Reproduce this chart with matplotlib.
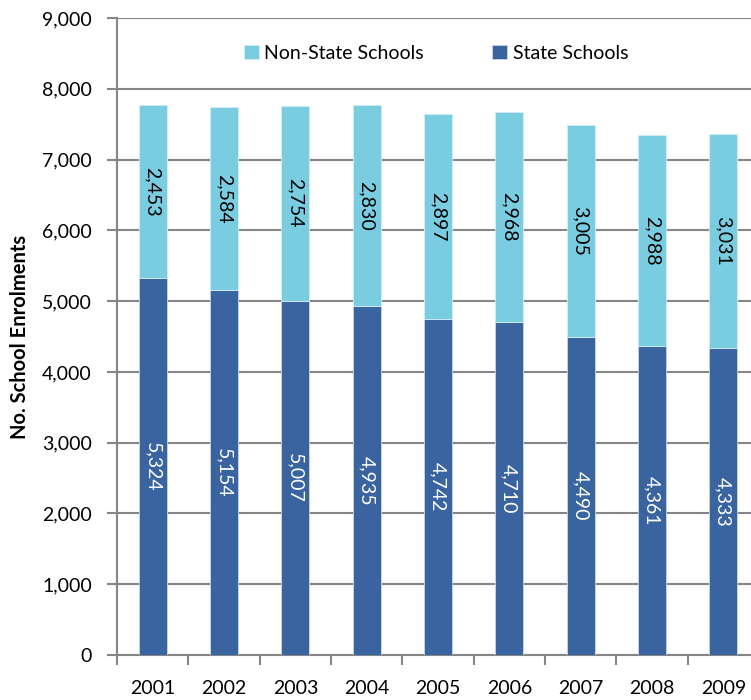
import matplotlib
matplotlib.use("Agg")
import matplotlib.pyplot as plt
from matplotlib.ticker import FuncFormatter, MultipleLocator, FixedLocator
import numpy as np

years = ["2001", "2002", "2003", "2004", "2005", "2006", "2007", "2008", "2009"]
state = [5324, 5154, 5007, 4935, 4742, 4710, 4490, 4361, 4333]
non_state = [2453, 2584, 2754, 2830, 2897, 2968, 3005, 2988, 3031]

plt.rcParams["font.family"] = ["Lato", "DejaVu Sans"]

W, H = 751, 700
fig = plt.figure(figsize=(W / 100, H / 100), dpi=100)
left_px, right_px, top_px, bottom_px = 117, 759, 18, 655
ax = fig.add_axes([left_px / W, (H - bottom_px) / H,
                   (right_px - left_px) / W, (bottom_px - top_px) / H])

dark = "#3A64A0"
light = "#7ACDE0"
grid_c = "#868686"

x = np.arange(len(years))
bw = 0.39
b1 = ax.bar(x, state, bw, color=dark, edgecolor="#C9D6EA", linewidth=0.6,
            label="State Schools", zorder=3)
b2 = ax.bar(x, non_state, bw, bottom=state, color=light, edgecolor="#D2EEF5",
            linewidth=0.6, label="Non-State Schools", zorder=3)

for xi, s, n in zip(x, state, non_state):
    ax.text(xi, s / 2, f"{s:,}", rotation=-90, ha="center", va="center",
            color="white", fontsize=14, zorder=4)
    ax.text(xi, s + n / 2, f"{n:,}", rotation=-90, ha="center", va="center",
            color="black", fontsize=14, zorder=4)

ax.set_xlim(-0.5, len(years) - 0.5)
ax.set_ylim(0, 9000)
ax.yaxis.set_major_locator(MultipleLocator(1000))
ax.yaxis.set_major_formatter(FuncFormatter(lambda v, p: f"{int(v):,}"))
ax.grid(axis="y", color=grid_c, linewidth=1.5, zorder=0)

ax.set_xticks(x)
ax.set_xticklabels(years)
ax.xaxis.set_minor_locator(FixedLocator(np.arange(-0.5, len(years), 1.0)))
ax.tick_params(axis="x", which="major", length=0, pad=18, labelsize=14)
ax.tick_params(axis="x", which="minor", length=7, width=1.5, color=grid_c)
ax.tick_params(axis="y", length=7, width=1.5, color=grid_c, pad=11, labelsize=14)

for side in ("top", "right"):
    ax.spines[side].set_visible(False)
for side in ("left", "bottom"):
    ax.spines[side].set_color(grid_c)
    ax.spines[side].set_linewidth(1.5)

ax.set_ylabel("No. School Enrolments", fontsize=14.5, fontweight="bold", labelpad=9)

handles = [b2, b1]
leg = ax.legend(handles, ["Non-State Schools", "State Schools"], loc="upper center",
                bbox_to_anchor=(0.497, 0.985), ncol=2, frameon=False, fontsize=14,
                handlelength=0.75, handleheight=0.75, handletextpad=0.3,
                columnspacing=3.5)

fig.savefig("out.png", dpi=100)
